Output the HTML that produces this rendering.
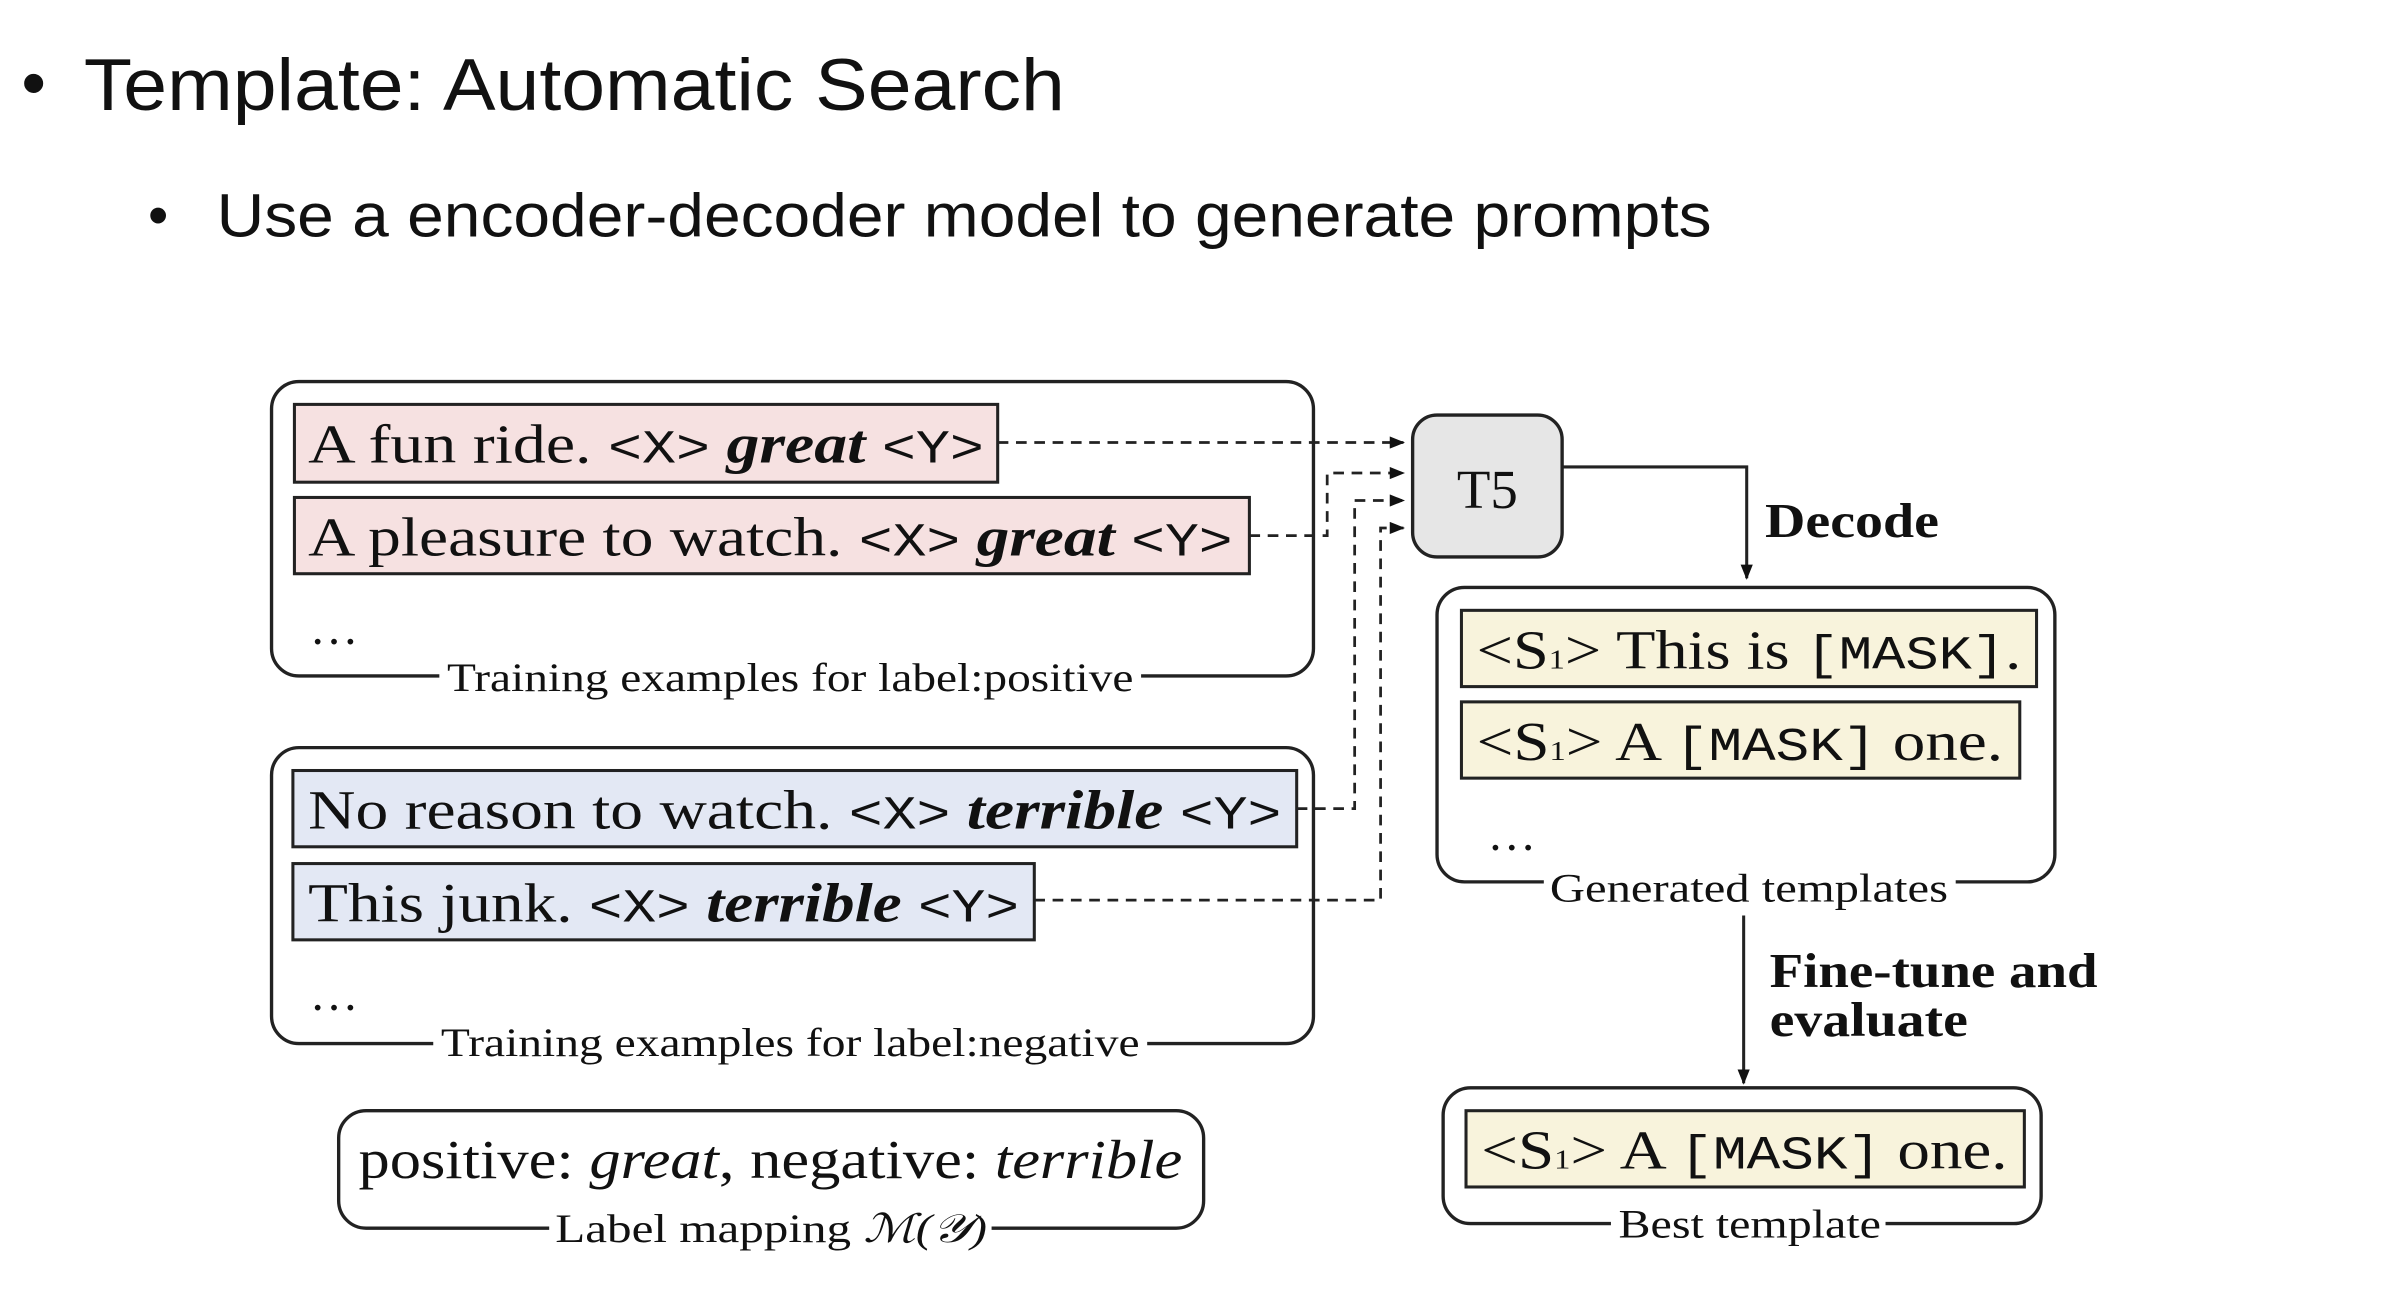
<!DOCTYPE html>
<html><head><meta charset="utf-8"><style>html,body{margin:0;padding:0;background:#fff;width:2392px;height:1300px;overflow:hidden}</style></head>
<body>
<svg width="2392" height="1300" viewBox="0 0 1568 852" xmlns="http://www.w3.org/2000/svg">
<defs><marker id="a" markerWidth="10" markerHeight="8" refX="9" refY="4" orient="auto" markerUnits="userSpaceOnUse"><path d="M0,0 L10,4 L0,8 z" fill="#111"/></marker></defs>
<g font-family="Liberation Sans, sans-serif" fill="#111">
<text x="14" y="70" font-size="46">•</text>
<text x="55" y="72" font-size="48" textLength="643" lengthAdjust="spacingAndGlyphs">Template: Automatic Search</text>
<text x="97" y="154" font-size="38">•</text>
<text x="142" y="155" font-size="40" textLength="980" lengthAdjust="spacingAndGlyphs">Use a encoder-decoder model to generate prompts</text>
</g>
<g fill="none" stroke="#222" stroke-width="2.2">
<rect x="178" y="250" width="683" height="193" rx="18"/>
<rect x="178" y="490" width="683" height="194" rx="18"/>
<rect x="222" y="728" width="567" height="77" rx="18"/>
<rect x="942" y="385" width="405" height="193" rx="18"/>
<rect x="946" y="713" width="392" height="89" rx="18"/>
</g>
<rect x="926" y="272" width="98" height="93" rx="16" fill="#e6e6e6" stroke="#222" stroke-width="2.2"/>
<g stroke="#222" stroke-width="2">
<rect x="193" y="265" width="461" height="51" fill="#f6e1e1"/>
<rect x="193" y="326" width="626" height="50" fill="#f6e1e1"/>
<rect x="192" y="505" width="658" height="50" fill="#e3e8f4"/>
<rect x="192" y="566" width="486" height="50" fill="#e3e8f4"/>
<rect x="958" y="400" width="377" height="50" fill="#f8f3dc"/>
<rect x="958" y="460" width="366" height="50" fill="#f8f3dc"/>
<rect x="961" y="728" width="366" height="50" fill="#f8f3dc"/>
</g>
<g fill="none" stroke="#222" stroke-width="1.8" stroke-dasharray="7,5">
<path d="M654,290 H920" marker-end="url(#a)"/>
<path d="M819,351 H870 V310 H920" marker-end="url(#a)"/>
<path d="M850,530 H888 V328 H920" marker-end="url(#a)"/>
<path d="M678,590 H905 V346 H920" marker-end="url(#a)"/>
</g>
<g fill="none" stroke="#222" stroke-width="2">
<path d="M1024,306 H1145 V379" marker-end="url(#a)"/>
<path d="M1143,600 V710" marker-end="url(#a)"/>
</g>
<g fill="#fff">
<rect x="288" y="430" width="460" height="26"/>
<rect x="284" y="670" width="468" height="26"/>
<rect x="360" y="792" width="290" height="26"/>
<rect x="1012" y="566" width="270" height="26"/>
<rect x="1056" y="790" width="180" height="26"/>
</g>
<g font-family="Liberation Serif, serif" fill="#111">
<text x="202" y="303" font-size="36" textLength="443" lengthAdjust="spacingAndGlyphs">A fun ride. <tspan font-family="Liberation Mono, monospace" font-size="31">&lt;X&gt;</tspan> <tspan font-weight="bold" font-style="italic">great</tspan> <tspan font-family="Liberation Mono, monospace" font-size="31">&lt;Y&gt;</tspan></text>
<text x="202" y="364" font-size="36" textLength="606" lengthAdjust="spacingAndGlyphs">A pleasure to watch. <tspan font-family="Liberation Mono, monospace" font-size="31">&lt;X&gt;</tspan> <tspan font-weight="bold" font-style="italic">great</tspan> <tspan font-family="Liberation Mono, monospace" font-size="31">&lt;Y&gt;</tspan></text>
<text x="203" y="422" font-size="32">…</text>
<text x="293" y="453" font-size="26" textLength="450" lengthAdjust="spacingAndGlyphs">Training examples for label:positive</text>
<text x="202" y="543" font-size="36" textLength="638" lengthAdjust="spacingAndGlyphs">No reason to watch. <tspan font-family="Liberation Mono, monospace" font-size="31">&lt;X&gt;</tspan> <tspan font-weight="bold" font-style="italic">terrible</tspan> <tspan font-family="Liberation Mono, monospace" font-size="31">&lt;Y&gt;</tspan></text>
<text x="202" y="604" font-size="36" textLength="466" lengthAdjust="spacingAndGlyphs">This junk. <tspan font-family="Liberation Mono, monospace" font-size="31">&lt;X&gt;</tspan> <tspan font-weight="bold" font-style="italic">terrible</tspan> <tspan font-family="Liberation Mono, monospace" font-size="31">&lt;Y&gt;</tspan></text>
<text x="203" y="662" font-size="32">…</text>
<text x="289" y="692" font-size="26" textLength="458" lengthAdjust="spacingAndGlyphs">Training examples for label:negative</text>
<text x="235" y="772" font-size="36" textLength="540" lengthAdjust="spacingAndGlyphs">positive: <tspan font-style="italic">great</tspan>, negative: <tspan font-style="italic">terrible</tspan></text>
<text x="364" y="814" font-size="26" textLength="283" lengthAdjust="spacingAndGlyphs">Label mapping <tspan font-style="italic">ℳ(𝒴)</tspan></text>
<text x="975" y="333" font-size="36" text-anchor="middle">T5</text>
<text x="1157" y="352" font-size="32" font-weight="bold" textLength="114" lengthAdjust="spacingAndGlyphs">Decode</text>
<text x="968" y="438" font-size="36" textLength="357" lengthAdjust="spacingAndGlyphs">&lt;S<tspan font-size="18">1</tspan>&gt; This is <tspan font-family="Liberation Mono, monospace" font-size="31">[MASK]</tspan>.</text>
<text x="968" y="498" font-size="36" textLength="345" lengthAdjust="spacingAndGlyphs">&lt;S<tspan font-size="18">1</tspan>&gt; A <tspan font-family="Liberation Mono, monospace" font-size="31">[MASK]</tspan> one.</text>
<text x="975" y="557" font-size="32">…</text>
<text x="1016" y="591" font-size="26" textLength="261" lengthAdjust="spacingAndGlyphs">Generated templates</text>
<text x="1160" y="647" font-size="32" font-weight="bold" textLength="215" lengthAdjust="spacingAndGlyphs">Fine-tune and</text>
<text x="1160" y="679" font-size="32" font-weight="bold" textLength="130" lengthAdjust="spacingAndGlyphs">evaluate</text>
<text x="971" y="766" font-size="36" textLength="345" lengthAdjust="spacingAndGlyphs">&lt;S<tspan font-size="18">1</tspan>&gt; A <tspan font-family="Liberation Mono, monospace" font-size="31">[MASK]</tspan> one.</text>
<text x="1061" y="811" font-size="26" textLength="172" lengthAdjust="spacingAndGlyphs">Best template</text>
</g>
</svg>
</body></html>
